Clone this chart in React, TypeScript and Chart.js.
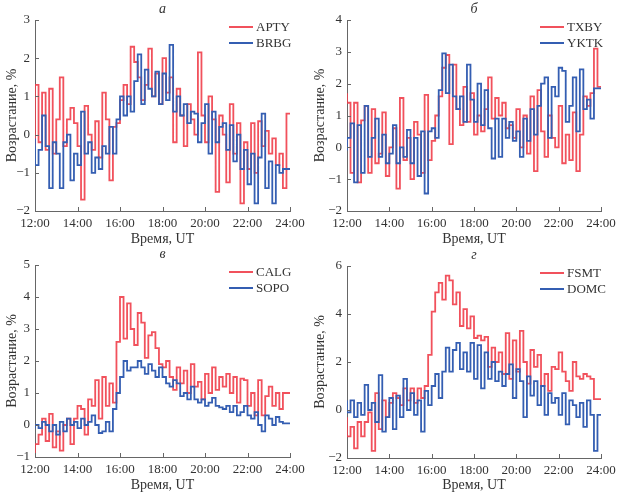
import { useEffect, useRef } from 'react';
import { Chart, registerables } from 'chart.js';

Chart.register(...registerables);

// 10-minute samples from 12:00 to 24:00 (last value = closing step at 24:00)
const times = Array.from({ length: 73 }, (_, i) => 12 + i / 6);
const xTickLabels = ['12:00', '14:00', '16:00', '18:00', '20:00', '22:00', '24:00'];

const apty = [
  -0.3, 1.3, -0.2, 1.1, -0.4, 1.2,
  -0.5, 0.4, 1.5, -0.3, 0.4, 0.7,
  0.3, -0.3, -1.7, 0.75, 0.0, -0.4,
  0.35, -0.6, 1.1, 0.4, -1.2, 0.2,
  0.3, 0.9, 1.3, 0.8, 2.3, 1.9,
  1.5, 0.9, 1.3, 2.25, 1.0, 1.6,
  0.8, 2.0, 1.1, 1.5, -0.2, 1.2,
  0.5, -0.3, 0.8, 0.4, 0.0, 2.15,
  0.5, -0.2, 1.0, 0.4, -1.5, 0.5,
  0.0, -1.25, 0.8, -0.5, 0.3, -1.8,
  -0.2, -0.9, 0.3, -1.0, 0.35, -0.3,
  0.1, -0.5, -0.1, -0.8, -0.5, -1.4,
  0.55,
];
const brbg = [
  -0.1, -0.8, -0.4, 0.5, -0.3, -1.4,
  -0.2, -0.5, -1.4, -0.2, 0.0, -1.2,
  -0.5, -0.8, 0.6, -0.5, -0.2, -1.0,
  -0.6, -0.9, -0.3, -0.5, 0.2, -0.5,
  0.4, 1.0, 0.5, 1.0, 0.6, 1.4,
  2.1, 0.8, 1.7, 1.2, 1.0, 1.65,
  0.8, 1.6, 0.9, 2.35, 0.6, 1.0,
  0.5, 0.8, 0.3, 0.6, 0.55, -0.2,
  0.3, 0.8, -0.5, 0.6, -0.2, 0.2,
  0.3, -0.4, 0.25, -0.7, 0.0, -0.9,
  -0.4, -1.3, -0.5, -1.8, -0.6, 0.55,
  -1.4, -0.7, -1.8, -0.8, -1.0, -0.9,
  -0.9,
];

const txby = [
  1.7, 1.4, -0.8, 1.4, -1.1, 0.85,
  1.3, -0.8, 1.2, -0.5, -0.2, 1.1,
  -0.9, 0.0, 0.6, -1.3, 1.55, -0.4,
  0.3, -1.0, 0.8, 0.4, -0.8, 1.65,
  -0.4, 0.2, 1.0, 1.6, 2.5, 2.9,
  0.1, 2.6, 1.2, 0.7, 1.9, 0.8,
  1.7, 0.4, 1.0, 0.5, 1.2, 2.2,
  0.9, 1.55, 1.0, 1.4, 0.6, 0.7,
  0.3, 1.2, 0.0, 1.0, -0.2, 1.6,
  -0.75, 1.8, 0.5, -0.3, 1.0, 0.3,
  0.0, 1.3, -0.5, 0.4, -0.4, 1.1,
  -0.75, 0.4, 1.6, 1.3, 1.7, 3.1,
  1.9,
];
const yktk = [
  -0.1, 0.3, 0.75, -1.1, 0.7, -0.8,
  1.3, -0.3, 0.3, 0.9, -0.3, 0.4,
  -0.5, -0.2, 0.7, -0.5, 0.0, -0.3,
  0.55, -0.5, 0.3, -0.9, 0.5, -1.45,
  0.5, 0.6, 0.3, 1.8, 2.95, 1.7,
  2.6, 1.6, 1.2, 1.6, 0.8, 2.6,
  1.5, 0.8, 2.0, 0.7, 1.8, 0.6,
  -0.35, 0.9, -0.3, 0.9, 0.3, 0.8,
  0.2, 0.5, -0.3, 0.9, 0.2, 1.2,
  0.4, 1.3, 2.0, 2.2, 0.3, 1.9,
  1.6, 2.5, 2.4, 0.8, 1.3, 2.2,
  0.5, 2.45, 1.2, 1.5, 0.9, 1.85,
  1.85,
];

const calg = [
  -0.9, -0.6, -0.3, 0.2, -0.5, 0.35,
  -0.7, -0.2, -0.8, 0.0, 0.2, -0.6,
  0.2, 0.6, 0.5, -0.3, 0.8, 0.6,
  1.4, 0.2, 1.5, 0.6, 1.3, 0.7,
  2.6, 4.0, 2.7, 3.8, 3.0, 2.5,
  3.5, 3.2, 2.1, 2.8, 2.9, 2.4,
  1.9, 1.8, 2.0, 1.5, 1.1, 1.8,
  1.3, 1.7, 1.0, 1.9, 1.2, 1.35,
  0.8, 1.6, 1.0, 1.8, 1.1, 1.5,
  1.2, 1.6, 1.0, 1.5, 0.7, 1.45,
  1.4, 0.6, 1.0, 0.3, 1.4, 0.3,
  0.9, 1.2, 0.6, 1.0, 0.5, 1.0,
  1.0,
];
const sopo = [
  -0.1, 0.0, -0.1, 0.1, 0.0, -0.2,
  0.0, -0.3, 0.1, -0.2, 0.2, 0.0,
  0.1, -0.1, 0.2, 0.0, 0.1, 0.3,
  0.0, -0.25, -0.2, 0.1, -0.2, 0.5,
  1.0, 1.5, 2.0, 1.7, 1.8, 1.8,
  2.0, 1.8, 1.6, 1.9, 1.7, 1.5,
  1.8, 1.5, 1.3, 1.2, 1.4, 1.3,
  0.9, 1.0, 0.8, 1.2, 0.8, 0.7,
  0.8, 0.6, 0.7, 0.85, 0.6, 0.55,
  0.5, 0.6, 0.4, 0.6, 0.3, 0.4,
  0.6, 0.3, 0.2, 0.4, 0.0, -0.2,
  0.3, 0.2, 0.0, 0.25, 0.1, 0.05,
  0.05,
];

const fsmt = [
  -0.3, -1.1, -0.7, -1.6, -0.5, -1.1,
  -0.5, -0.1, -1.7, 0.7, -0.8, 0.4,
  -0.3, 0.3, 0.7, 0.5, 0.2, 0.9,
  0.4, 0.9, 0.3, 0.9, 0.5, 1.0,
  2.3, 4.1, 4.9, 5.3, 4.6, 5.6,
  5.4, 4.4, 4.9, 3.5, 4.2, 3.4,
  3.9, 3.0, 3.1, 2.9, 3.05, 1.8,
  2.6, 2.0, 2.4, 1.5, 3.2, 1.3,
  2.9, 1.6, 3.3, 2.0, 1.1, 2.5,
  1.8, 2.3, 1.0, 1.5, 0.8, 1.8,
  1.7, 2.4, 1.6, 1.2, 0.8, 2.0,
  1.4, 1.3, 1.5, 1.4, 1.3, 0.45,
  0.45,
];
const domc = [
  0.4, -0.1, 0.4, -0.3, 0.3, -0.2,
  1.05, 0.0, 0.3, -0.5, 1.45, -0.9,
  -0.3, 0.5, -0.8, 0.6, -0.3, 1.3,
  0.0, 0.7, -0.2, 0.4, -0.9, 0.8,
  0.2, 1.0, 1.5, 0.5, 1.6, 2.6,
  1.6, 2.5, 2.8, 1.7, 2.4, 1.6,
  2.8, 1.3, 2.7, 0.9, 2.4, 1.3,
  2.0, 1.2, 1.6, 1.0, 1.5, 1.9,
  0.5, 1.7, 1.2, -0.3, 1.4, 0.6,
  1.2, 0.2, 1.0, -0.2, 0.7, 0.3,
  0.5, -0.2, 0.7, -0.6, 0.4, 0.2,
  -0.3, 0.3, -0.7, 0.4, -0.2, -1.7,
  -0.2,
];

const RED = 'rgba(240, 62, 74, 0.9)';
const BLUE = 'rgb(52, 94, 178)';
const AXIS = '#666';
const TEXT = '#333';
const FONT = "'Liberation Serif', 'DejaVu Serif', serif";

const toPoints = (vals) => vals.map((v, i) => ({ x: times[i], y: v }));

// inward tick marks, panel letter and the little legend in the upper right
const decor = {
  id: 'decor',
  afterDatasetsDraw(chart, args, opts) {
    const { ctx, chartArea, scales } = chart;
    ctx.save();
    ctx.strokeStyle = AXIS;
    ctx.lineWidth = 1;
    scales.x.ticks.forEach((t) => {
      const px = Math.round(scales.x.getPixelForValue(t.value)) + 0.5;
      ctx.beginPath();
      ctx.moveTo(px, chartArea.bottom);
      ctx.lineTo(px, chartArea.bottom - 4);
      ctx.stroke();
    });
    scales.y.ticks.forEach((t) => {
      const py = Math.round(scales.y.getPixelForValue(t.value)) + 0.5;
      ctx.beginPath();
      ctx.moveTo(chartArea.left, py);
      ctx.lineTo(chartArea.left + 4, py);
      ctx.stroke();
    });

    ctx.fillStyle = TEXT;
    ctx.font = `italic 14px ${FONT}`;
    ctx.textAlign = 'center';
    ctx.textBaseline = 'middle';
    ctx.fillText(opts.letter, (chartArea.left + chartArea.right) / 2, chartArea.top - 11);

    ctx.font = `13px ${FONT}`;
    ctx.textAlign = 'left';
    opts.names.forEach((name, i) => {
      const y = chartArea.top + 7 + i * 16;
      ctx.strokeStyle = opts.colors[i];
      ctx.lineWidth = 2;
      ctx.beginPath();
      ctx.moveTo(chartArea.right - 61, y);
      ctx.lineTo(chartArea.right - 37, y);
      ctx.stroke();
      ctx.fillStyle = TEXT;
      ctx.fillText(name, chartArea.right - 34, y + 1);
    });
    ctx.restore();
  },
};

const Panel = ({ letter, names, red, blue, yMin, yMax, yStep, pad, yWidth, xHeight }) => {
  const canvasRef = useRef(null);
  const chartRef = useRef(null);

  useEffect(() => {
    const ctx = canvasRef.current.getContext('2d');
    if (chartRef.current) chartRef.current.destroy();

    chartRef.current = new Chart(ctx, {
      type: 'line',
      data: {
        datasets: [
          {
            label: names[1],
            data: toPoints(blue),
            borderColor: BLUE,
            borderWidth: 1.8,
            pointRadius: 0,
            stepped: 'after',
            fill: false,
          },
          {
            label: names[0],
            data: toPoints(red),
            borderColor: RED,
            borderWidth: 1.8,
            pointRadius: 0,
            stepped: 'after',
            fill: false,
          },
        ],
      },
      plugins: [decor],
      options: {
        animation: false,
        responsive: true,
        maintainAspectRatio: false,
        layout: { padding: pad },
        scales: {
          x: {
            type: 'linear',
            min: 12,
            max: 24,
            afterFit: (s) => {
              s.height = xHeight;
              s.paddingLeft = 0;
              s.paddingRight = 0;
            },
            afterBuildTicks: (s) => {
              s.ticks = xTickLabels.map((_, i) => ({ value: 12 + i * 2 }));
            },
            grid: { display: false, drawTicks: false },
            border: { color: AXIS, width: 1 },
            ticks: {
              color: TEXT,
              font: { family: FONT, size: 13 },
              padding: 5,
              maxRotation: 0,
              callback: (v) => xTickLabels[Math.round((v - 12) / 2)],
            },
            title: {
              display: true,
              text: 'Время, UT',
              color: TEXT,
              font: { family: FONT, size: 14, lineHeight: 1 },
              padding: { top: 0, bottom: 0 },
            },
          },
          y: {
            min: yMin,
            max: yMax,
            afterFit: (s) => { s.width = yWidth; },
            grid: { display: false, drawTicks: false },
            border: { color: AXIS, width: 1 },
            ticks: {
              stepSize: yStep,
              color: TEXT,
              font: { family: FONT, size: 13 },
              padding: 5,
              callback: (v) => String(v).replace('-', '−'),
            },
            title: {
              display: true,
              text: 'Возрастание, %',
              color: TEXT,
              font: { family: FONT, size: 14, lineHeight: 1 },
              padding: { top: 5, bottom: 0 },
            },
          },
        },
        plugins: {
          legend: { display: false },
          tooltip: { enabled: false },
          decor: { letter, names, colors: [RED, BLUE] },
        },
      },
    });

    return () => {
      if (chartRef.current) {
        chartRef.current.destroy();
        chartRef.current = null;
      }
    };
  }, []);

  return <canvas ref={canvasRef}></canvas>;
};

const App = () => {
  useEffect(() => {
    document.body.style.margin = '0';
  }, []);

  const cell = (left, top, width, height) => ({
    position: 'absolute' as const, left, top, width, height,
  });

  return (
    <div style={{ position: 'relative', width: 617, height: 492, background: '#fff' }}>
      <div style={cell(0, 0, 308, 246)}>
        <Panel letter="а" names={['APTY', 'BRBG']} red={apty} blue={brbg}
          yMin={-2} yMax={3} yStep={1} pad={{ top: 20, right: 18 }} yWidth={35} xHeight={35} />
      </div>
      <div style={cell(308, 0, 309, 246)}>
        <Panel letter="б" names={['TXBY', 'YKTK']} red={txby} blue={yktk}
          yMin={-2} yMax={4} yStep={1} pad={{ top: 20, right: 16 }} yWidth={39} xHeight={35} />
      </div>
      <div style={cell(0, 246, 308, 246)}>
        <Panel letter="в" names={['CALG', 'SOPO']} red={calg} blue={sopo}
          yMin={-1} yMax={5} yStep={1} pad={{ top: 19, right: 18 }} yWidth={35} xHeight={35} />
      </div>
      <div style={cell(308, 246, 309, 246)}>
        <Panel letter="г" names={['FSMT', 'DOMC']} red={fsmt} blue={domc}
          yMin={-2} yMax={6} yStep={2} pad={{ top: 20, right: 16 }} yWidth={39} xHeight={34} />
      </div>
    </div>
  );
};

export default App;
